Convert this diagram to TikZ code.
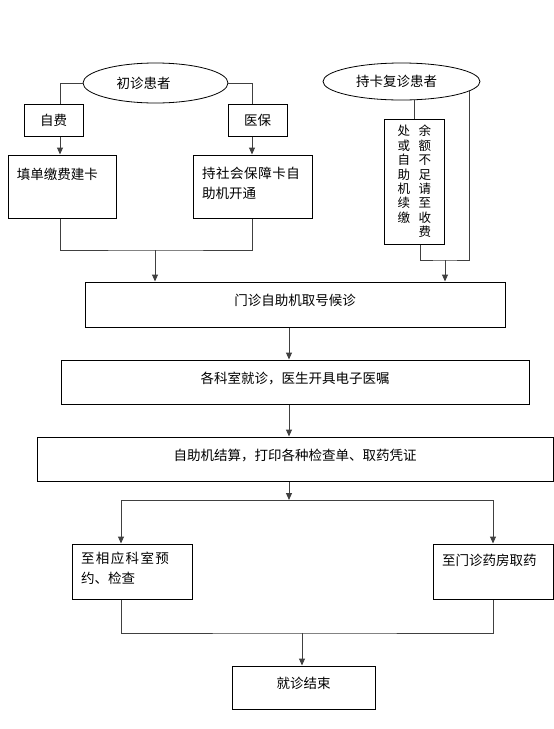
\documentclass[tikz,border=0pt]{standalone}
\usepackage{fontspec}
\setmainfont{Noto Sans CJK SC}
\XeTeXlinebreaklocale "zh"
\XeTeXlinebreakskip=0pt plus 3pt minus 0.1pt
\usetikzlibrary{arrows.meta,shapes.geometric,calc}

% text set at the top left of a box: [top pad]{box width}{box height}{text width}{text}
\newcommand{\boxtext}[5][12pt]{\makebox[#2][l]{\hspace{9pt}\parbox[c][#3][t]{#4}{\vspace*{#1}#5}}}
\newcommand{\vcol}[1]{\parbox[t]{12pt}{\centering\fontsize{12.5}{14.4}\selectfont #1}}

\begin{document}
\begin{tikzpicture}[
  x=1pt, y=-1pt,
  >={Triangle[width=6pt,length=7pt]},
  every node/.style={font=\fontsize{13.5}{20}\selectfont},
  box/.style={draw, line width=1pt, inner sep=0pt},
  midbox/.style={box, text depth=9pt},
  oval/.style={ellipse, draw, line width=0.8pt, inner sep=0pt},
  link/.style={draw=black!75, line width=1pt}
]
\useasboundingbox (0,0) rectangle (554,729);

% patients
\node[oval, minimum width=145pt, minimum height=40pt] (first) at (155.5,83) {初诊患者\hspace*{24pt}};
\node[oval, minimum width=157pt, minimum height=37pt] (second) at (401.5,81.5) {持卡复诊患者\hspace*{10pt}};

% card and payment
\node[box, minimum width=59pt, minimum height=32pt] (fee) at (53.5,120) {自费};
\node[box, minimum width=59pt, minimum height=32pt] (ins) at (257.5,120) {医保};
\node[box] (fill) at (62,186.5) {\boxtext[13pt]{108pt}{63pt}{90pt}{填单缴费建卡}};
\node[box] (social) at (252.5,186.5) {\boxtext[12pt]{119pt}{63pt}{98pt}{持社会保障卡自助机开通}};
\node[box, minimum width=60pt, minimum height=125pt] (refill) at (414,181.5)
  {\vcol{处\\或\\自\\助\\机\\续\\缴}\hspace{9pt}\vcol{余\\额\\不\\足\\请\\至\\收\\费}};

% main line
\node[midbox, minimum width=420pt, minimum height=45pt] (queue) at (295,304.5) {门诊自助机取号候诊};
\node[midbox, minimum width=468pt, minimum height=44pt] (visit) at (295,382) {各科室就诊，医生开具电子医嘱};
\node[midbox, minimum width=516pt, minimum height=44pt] (settle) at (295,459) {自助机结算，打印各种检查单、取药凭证};
\node[box] (exam) at (132,571.5) {\boxtext[8pt]{120pt}{55pt}{88pt}{至相应科室预约、检查}};
\node[box] (drug) at (493,571.5) {\boxtext[10pt]{120pt}{55pt}{100pt}{至门诊药房取药}};
\node[midbox, minimum width=143pt, minimum height=43pt] (endv) at (303.5,687.5) {就诊结束};

% columns and joints
\coordinate (lx) at (60,0);
\coordinate (rx) at (252,0);
\coordinate (cx) at (414,0);
\coordinate (dx) at (420,0);
\coordinate (mid) at (289,0);
\coordinate (ax) at (121,0);
\coordinate (bx) at (493,0);
\coordinate (lj) at (155,250);
\coordinate (rj) at (445,260);
\coordinate (split) at (289,500);
\coordinate (merge) at (302,633);

% first visit
\draw[link] (first.west) -| (lx |- fee.north);
\draw[link,->] (lx |- fee.south) -- (lx |- fill.north);
\draw[link] (first.east) -| (rx |- ins.north);
\draw[link,->] (rx |- ins.south) -- (rx |- social.north);
\draw[link] (lx |- fill.south) |- (lj) -| (rx |- social.south);
\draw[link,->] (lj) -- (lj |- queue.north);

% return visit
\draw[link] (second.south -| cx) -- (cx |- refill.north);
\draw[link] (dx |- refill.south) |- (rj) -| (second.-8);
\draw[link,->] (rj) -- (rj |- queue.north);

% after registration
\draw[link,->] (mid |- queue.south) -- (mid |- visit.north);
\draw[link,->] (mid |- visit.south) -- (mid |- settle.north);
\draw[link,->] (mid |- settle.south) -- (split);
\draw[link,->] (split) -| (ax |- exam.north);
\draw[link,->] (split) -| (bx |- drug.north);
\draw[link] (ax |- exam.south) |- (merge) -| (bx |- drug.south);
\draw[link,->] (merge) -- (merge |- endv.north);
\end{tikzpicture}
\end{document}
